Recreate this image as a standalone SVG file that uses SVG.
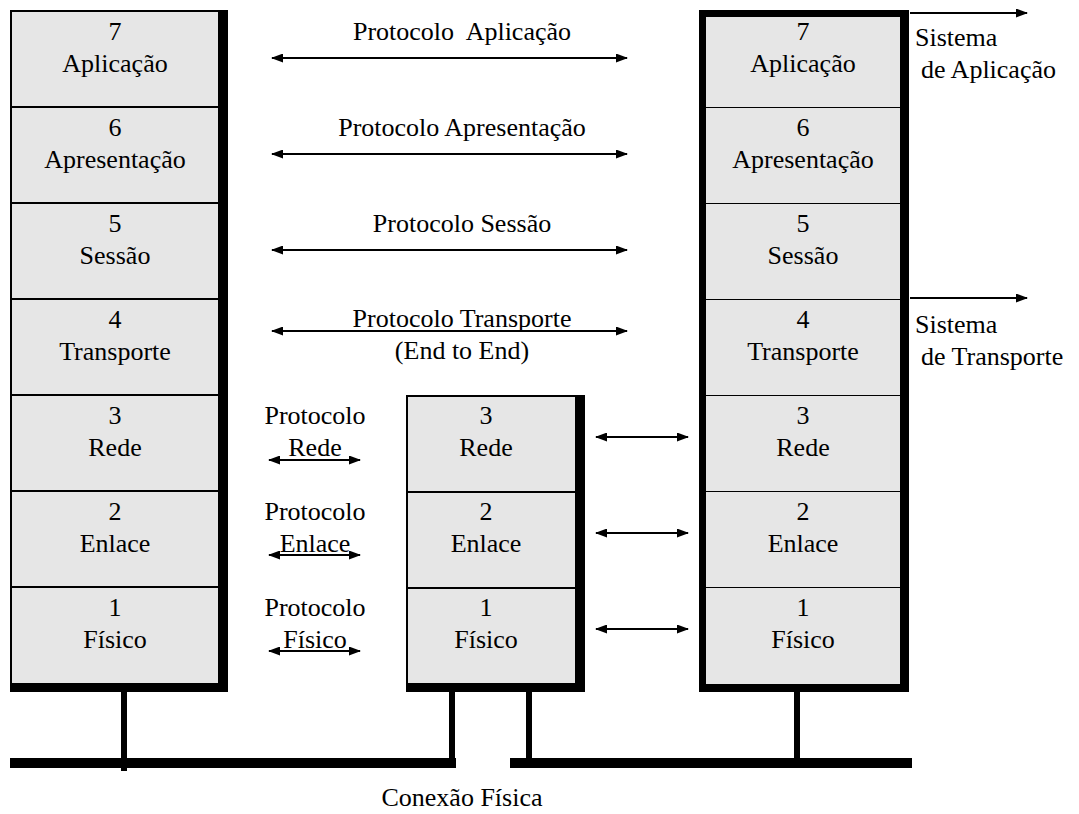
<svg xmlns="http://www.w3.org/2000/svg" width="1079" height="814" viewBox="0 0 1079 814">
  <style>
    text { font-family: "Liberation Serif", serif !important; font-size: 26px; fill: #000; }
    .c { text-anchor: middle; }
    .layer { fill: #e6e6e6; stroke: #000; stroke-width: 2; }
    .cell { fill: #e6e6e6; }
    .link { stroke: #000; stroke-width: 2; fill: none; marker-start: url(#ah); marker-end: url(#ah); }
    .out { stroke: #000; stroke-width: 2; fill: none; marker-end: url(#ah); }
    .wire { stroke: #000; stroke-width: 6; }
  </style>
  <defs>
    <marker id="ah" viewBox="0 0 12 9" refX="11" refY="4.5" markerUnits="userSpaceOnUse" markerWidth="12" markerHeight="9" orient="auto-start-reverse">
      <path d="M0,0 L12,4.5 L0,9 z" fill="#000"/>
    </marker>
  </defs>

  <rect width="1079" height="814" fill="#fff"/>

  <!-- Host A: full 7-layer stack -->
  <g id="hostA">
    <rect class="layer" x="11" y="11" width="208" height="96"/>
    <rect class="layer" x="11" y="107" width="208" height="96"/>
    <rect class="layer" x="11" y="203" width="208" height="96"/>
    <rect class="layer" x="11" y="299" width="208" height="96"/>
    <rect class="layer" x="11" y="395" width="208" height="96"/>
    <rect class="layer" x="11" y="491" width="208" height="96"/>
    <rect class="layer" x="11" y="587" width="208" height="97"/>
    <rect x="219" y="10" width="9" height="682" fill="#000"/>
    <rect x="10" y="684" width="218" height="8" fill="#000"/>
    <text style="font-family:'Liberation Serif',serif !important" class="c" x="115" y="40">7</text>
    <text style="font-family:'Liberation Serif',serif !important" class="c" x="115" y="72">Aplicação</text>
    <text style="font-family:'Liberation Serif',serif !important" class="c" x="115" y="136">6</text>
    <text style="font-family:'Liberation Serif',serif !important" class="c" x="115" y="168">Apresentação</text>
    <text style="font-family:'Liberation Serif',serif !important" class="c" x="115" y="232">5</text>
    <text style="font-family:'Liberation Serif',serif !important" class="c" x="115" y="264">Sessão</text>
    <text style="font-family:'Liberation Serif',serif !important" class="c" x="115" y="328">4</text>
    <text style="font-family:'Liberation Serif',serif !important" class="c" x="115" y="360">Transporte</text>
    <text style="font-family:'Liberation Serif',serif !important" class="c" x="115" y="424">3</text>
    <text style="font-family:'Liberation Serif',serif !important" class="c" x="115" y="456">Rede</text>
    <text style="font-family:'Liberation Serif',serif !important" class="c" x="115" y="520">2</text>
    <text style="font-family:'Liberation Serif',serif !important" class="c" x="115" y="552">Enlace</text>
    <text style="font-family:'Liberation Serif',serif !important" class="c" x="115" y="616">1</text>
    <text style="font-family:'Liberation Serif',serif !important" class="c" x="115" y="648">Físico</text>
  </g>

  <!-- Router: layers 1-3 -->
  <g id="router">
    <rect class="layer" x="407" y="396" width="169" height="96"/>
    <rect class="layer" x="407" y="492" width="169" height="96"/>
    <rect class="layer" x="407" y="588" width="169" height="96"/>
    <rect x="576" y="395" width="9" height="297" fill="#000"/>
    <rect x="406" y="684" width="179" height="8" fill="#000"/>
    <text style="font-family:'Liberation Serif',serif !important" class="c" x="486" y="424">3</text>
    <text style="font-family:'Liberation Serif',serif !important" class="c" x="486" y="456">Rede</text>
    <text style="font-family:'Liberation Serif',serif !important" class="c" x="486" y="520">2</text>
    <text style="font-family:'Liberation Serif',serif !important" class="c" x="486" y="552">Enlace</text>
    <text style="font-family:'Liberation Serif',serif !important" class="c" x="486" y="616">1</text>
    <text style="font-family:'Liberation Serif',serif !important" class="c" x="486" y="648">Físico</text>
  </g>

  <!-- Host B: full 7-layer stack with heavy frame -->
  <g id="hostB">
    <rect x="699" y="10" width="210" height="682" fill="#000"/>
    <rect class="cell" x="706" y="17" width="194" height="90"/>
    <rect class="cell" x="706" y="108" width="194" height="95"/>
    <rect class="cell" x="706" y="204" width="194" height="95"/>
    <rect class="cell" x="706" y="300" width="194" height="95"/>
    <rect class="cell" x="706" y="396" width="194" height="95"/>
    <rect class="cell" x="706" y="492" width="194" height="95"/>
    <rect class="cell" x="706" y="588" width="194" height="96"/>
    <text style="font-family:'Liberation Serif',serif !important" class="c" x="803" y="40">7</text>
    <text style="font-family:'Liberation Serif',serif !important" class="c" x="803" y="72">Aplicação</text>
    <text style="font-family:'Liberation Serif',serif !important" class="c" x="803" y="136">6</text>
    <text style="font-family:'Liberation Serif',serif !important" class="c" x="803" y="168">Apresentação</text>
    <text style="font-family:'Liberation Serif',serif !important" class="c" x="803" y="232">5</text>
    <text style="font-family:'Liberation Serif',serif !important" class="c" x="803" y="264">Sessão</text>
    <text style="font-family:'Liberation Serif',serif !important" class="c" x="803" y="328">4</text>
    <text style="font-family:'Liberation Serif',serif !important" class="c" x="803" y="360">Transporte</text>
    <text style="font-family:'Liberation Serif',serif !important" class="c" x="803" y="424">3</text>
    <text style="font-family:'Liberation Serif',serif !important" class="c" x="803" y="456">Rede</text>
    <text style="font-family:'Liberation Serif',serif !important" class="c" x="803" y="520">2</text>
    <text style="font-family:'Liberation Serif',serif !important" class="c" x="803" y="552">Enlace</text>
    <text style="font-family:'Liberation Serif',serif !important" class="c" x="803" y="616">1</text>
    <text style="font-family:'Liberation Serif',serif !important" class="c" x="803" y="648">Físico</text>
  </g>

  <!-- Physical medium -->
  <g id="medium">
    <rect x="10" y="758" width="446" height="10" fill="#000"/>
    <rect x="510" y="758" width="402" height="10" fill="#000"/>
    <line class="wire" x1="124" y1="692" x2="124" y2="771"/>
    <line class="wire" x1="452" y1="692" x2="452" y2="758"/>
    <line class="wire" x1="529" y1="692" x2="529" y2="758"/>
    <line class="wire" x1="797" y1="692" x2="797" y2="758"/>
    <text style="font-family:'Liberation Serif',serif !important" class="c" x="462" y="806">Conexão Física</text>
  </g>

  <!-- Peer protocol connectors -->
  <g id="connectors">
    <line class="link" x1="272" y1="58" x2="627" y2="58"/>
    <line class="link" x1="272" y1="154" x2="627" y2="154"/>
    <line class="link" x1="272" y1="250" x2="627" y2="250"/>
    <line class="link" x1="272" y1="331" x2="627" y2="331"/>
    <line class="link" x1="269" y1="460" x2="360" y2="460"/>
    <line class="link" x1="269" y1="555" x2="360" y2="555"/>
    <line class="link" x1="269" y1="651" x2="360" y2="651"/>
    <line class="link" x1="596" y1="437" x2="688" y2="437"/>
    <line class="link" x1="596" y1="533" x2="688" y2="533"/>
    <line class="link" x1="596" y1="629" x2="688" y2="629"/>
    <line class="out" x1="910" y1="13" x2="1027" y2="13"/>
    <line class="out" x1="910" y1="298" x2="1027" y2="298"/>
  </g>

  <!-- Connector labels -->
  <g id="labels">
    <text style="font-family:'Liberation Serif',serif !important" class="c" x="462" y="40" xml:space="preserve">Protocolo  Aplicação</text>
    <text style="font-family:'Liberation Serif',serif !important" class="c" x="462" y="136">Protocolo Apresentação</text>
    <text style="font-family:'Liberation Serif',serif !important" class="c" x="462" y="232">Protocolo Sessão</text>
    <text style="font-family:'Liberation Serif',serif !important" class="c" x="462" y="327">Protocolo Transporte</text>
    <text style="font-family:'Liberation Serif',serif !important" class="c" x="462" y="359">(End to End)</text>
    <text style="font-family:'Liberation Serif',serif !important" class="c" x="315" y="424">Protocolo</text>
    <text style="font-family:'Liberation Serif',serif !important" class="c" x="315" y="456">Rede</text>
    <text style="font-family:'Liberation Serif',serif !important" class="c" x="315" y="520">Protocolo</text>
    <text style="font-family:'Liberation Serif',serif !important" class="c" x="315" y="552">Enlace</text>
    <text style="font-family:'Liberation Serif',serif !important" class="c" x="315" y="616">Protocolo</text>
    <text style="font-family:'Liberation Serif',serif !important" class="c" x="315" y="648">Físico</text>
    <text style="font-family:'Liberation Serif',serif !important" x="915" y="46">Sistema</text>
    <text style="font-family:'Liberation Serif',serif !important" x="921" y="78">de Aplicação</text>
    <text style="font-family:'Liberation Serif',serif !important" x="915" y="333">Sistema</text>
    <text style="font-family:'Liberation Serif',serif !important" x="921" y="365">de Transporte</text>
  </g>
</svg>
